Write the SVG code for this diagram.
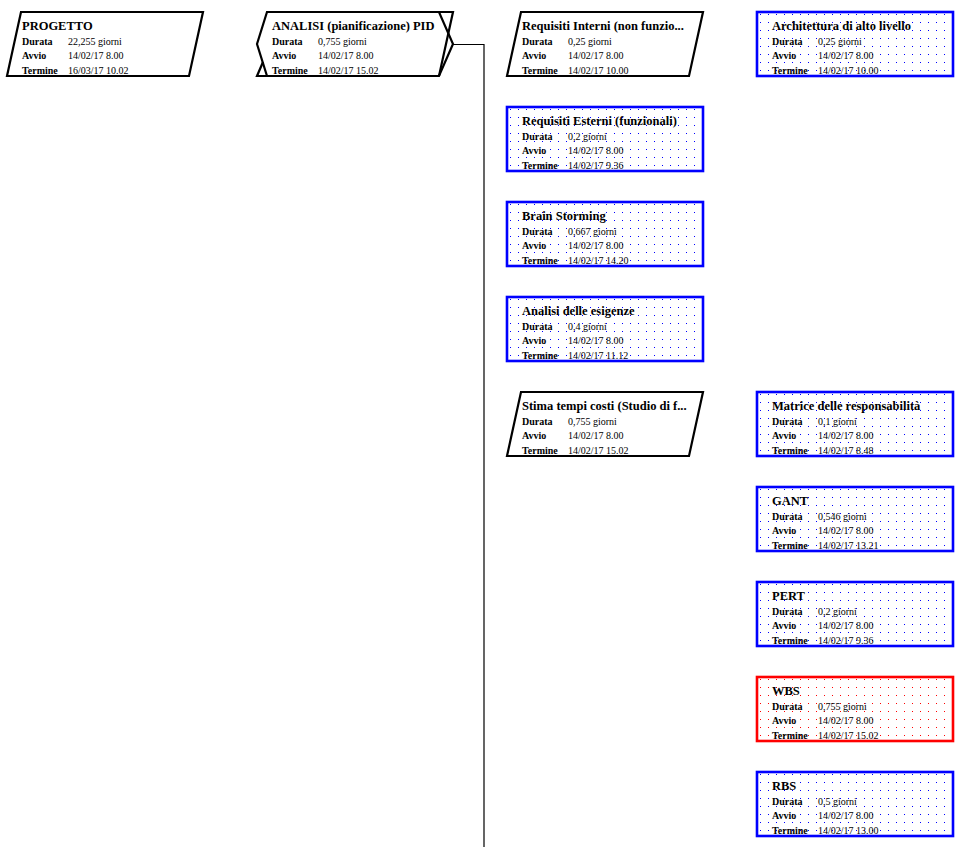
<svg xmlns="http://www.w3.org/2000/svg" width="979" height="847" viewBox="0 0 979 847">
<defs>
<pattern id="dotB" width="8" height="8" patternUnits="userSpaceOnUse" x="3" y="2"><rect x="0" y="0" width="1" height="1" fill="#0000ff"/></pattern>
<pattern id="dotR" width="8" height="8" patternUnits="userSpaceOnUse" x="3" y="2"><rect x="0" y="0" width="1" height="1" fill="#ff0000"/></pattern>
</defs>
<style>
.bg{fill:#fff}
.para{fill:#fff;stroke:#000;stroke-width:2.2;stroke-linejoin:miter}
.box{fill:url(#dotB);stroke:#0000ff;stroke-width:2.6}
.boxr{fill:url(#dotR);stroke:#ff0000;stroke-width:2.6}
.t{font-family:"Liberation Serif","Times New Roman",serif;font-weight:bold;font-size:12.5px;fill:#000}
.l{font-family:"Liberation Serif","Times New Roman",serif;font-weight:bold;font-size:10px;fill:#000}
.v{font-family:"Liberation Serif","Times New Roman",serif;font-size:10px;fill:#000}
.conn{fill:none;stroke:#000;stroke-width:1.2}
</style>
<rect class="bg" x="0" y="0" width="979" height="847"/>
<g id="connectors">
<path class="conn" d="M453,44.5 H484 V847"/>
</g>
<g id="n-progetto" transform="translate(7,12)">
<path class="para" d="M14,0 H196 L182,64 H0 Z"/>
<text class="t" x="15" y="18">PROGETTO</text>
<text class="l" x="15" y="32.5">Durata</text><text class="v" x="61" y="32.5">22,255 giorni</text>
<text class="l" x="15" y="47">Avvio</text><text class="v" x="61" y="47">14/02/17 8.00</text>
<text class="l" x="15" y="61.5">Termine</text><text class="v" x="61" y="61.5">16/03/17 10.02</text>
</g>
<g id="n-analisi" transform="translate(257,12)">
<path class="para" d="M10,0 H182 L196,32 L182,64 H10 L0,32 Z"/>
<path class="para" style="fill:none" d="M182,0 H196 L182,64 M10,64 H0 L6,50"/>
<text class="t" x="15" y="18">ANALISI (pianificazione) PID</text>
<text class="l" x="15" y="32.5">Durata</text><text class="v" x="61" y="32.5">0,755 giorni</text>
<text class="l" x="15" y="47">Avvio</text><text class="v" x="61" y="47">14/02/17 8.00</text>
<text class="l" x="15" y="61.5">Termine</text><text class="v" x="61" y="61.5">14/02/17 15.02</text>
</g>
<g id="n-req-interni" transform="translate(507,12)">
<path class="para" d="M14,0 H196 L182,64 H0 Z"/>
<text class="t" x="15" y="18">Requisiti Interni (non funzio...</text>
<text class="l" x="15" y="32.5">Durata</text><text class="v" x="61" y="32.5">0,25 giorni</text>
<text class="l" x="15" y="47">Avvio</text><text class="v" x="61" y="47">14/02/17 8.00</text>
<text class="l" x="15" y="61.5">Termine</text><text class="v" x="61" y="61.5">14/02/17 10.00</text>
</g>
<g id="n-req-esterni" transform="translate(507,107)">
<rect class="box" x="0" y="0" width="196" height="64"/>
<text class="t" x="15" y="18">Requisiti Esterni (funzionali)</text>
<text class="l" x="15" y="32.5">Durata</text><text class="v" x="61" y="32.5">0,2 giorni</text>
<text class="l" x="15" y="47">Avvio</text><text class="v" x="61" y="47">14/02/17 8.00</text>
<text class="l" x="15" y="61.5">Termine</text><text class="v" x="61" y="61.5">14/02/17 9.36</text>
</g>
<g id="n-brain" transform="translate(507,202)">
<rect class="box" x="0" y="0" width="196" height="64"/>
<text class="t" x="15" y="18">Brain Storming</text>
<text class="l" x="15" y="32.5">Durata</text><text class="v" x="61" y="32.5">0,667 giorni</text>
<text class="l" x="15" y="47">Avvio</text><text class="v" x="61" y="47">14/02/17 8.00</text>
<text class="l" x="15" y="61.5">Termine</text><text class="v" x="61" y="61.5">14/02/17 14.20</text>
</g>
<g id="n-esigenze" transform="translate(507,297)">
<rect class="box" x="0" y="0" width="196" height="64"/>
<text class="t" x="15" y="18">Analisi delle esigenze</text>
<text class="l" x="15" y="32.5">Durata</text><text class="v" x="61" y="32.5">0,4 giorni</text>
<text class="l" x="15" y="47">Avvio</text><text class="v" x="61" y="47">14/02/17 8.00</text>
<text class="l" x="15" y="61.5">Termine</text><text class="v" x="61" y="61.5">14/02/17 11.12</text>
</g>
<g id="n-stima" transform="translate(507,392)">
<path class="para" d="M14,0 H196 L182,64 H0 Z"/>
<text class="t" x="15" y="18">Stima tempi costi (Studio di f...</text>
<text class="l" x="15" y="32.5">Durata</text><text class="v" x="61" y="32.5">0,755 giorni</text>
<text class="l" x="15" y="47">Avvio</text><text class="v" x="61" y="47">14/02/17 8.00</text>
<text class="l" x="15" y="61.5">Termine</text><text class="v" x="61" y="61.5">14/02/17 15.02</text>
</g>
<g id="n-architettura" transform="translate(757,12)">
<rect class="box" x="0" y="0" width="196" height="64"/>
<text class="t" x="15" y="18">Architettura di alto livello</text>
<text class="l" x="15" y="32.5">Durata</text><text class="v" x="61" y="32.5">0,25 giorni</text>
<text class="l" x="15" y="47">Avvio</text><text class="v" x="61" y="47">14/02/17 8.00</text>
<text class="l" x="15" y="61.5">Termine</text><text class="v" x="61" y="61.5">14/02/17 10.00</text>
</g>
<g id="n-matrice" transform="translate(757,392)">
<rect class="box" x="0" y="0" width="196" height="64"/>
<text class="t" x="15" y="18">Matrice delle responsabilità</text>
<text class="l" x="15" y="32.5">Durata</text><text class="v" x="61" y="32.5">0,1 giorni</text>
<text class="l" x="15" y="47">Avvio</text><text class="v" x="61" y="47">14/02/17 8.00</text>
<text class="l" x="15" y="61.5">Termine</text><text class="v" x="61" y="61.5">14/02/17 8.48</text>
</g>
<g id="n-gant" transform="translate(757,487)">
<rect class="box" x="0" y="0" width="196" height="64"/>
<text class="t" x="15" y="18">GANT</text>
<text class="l" x="15" y="32.5">Durata</text><text class="v" x="61" y="32.5">0,546 giorni</text>
<text class="l" x="15" y="47">Avvio</text><text class="v" x="61" y="47">14/02/17 8.00</text>
<text class="l" x="15" y="61.5">Termine</text><text class="v" x="61" y="61.5">14/02/17 13.21</text>
</g>
<g id="n-pert" transform="translate(757,582)">
<rect class="box" x="0" y="0" width="196" height="64"/>
<text class="t" x="15" y="18">PERT</text>
<text class="l" x="15" y="32.5">Durata</text><text class="v" x="61" y="32.5">0,2 giorni</text>
<text class="l" x="15" y="47">Avvio</text><text class="v" x="61" y="47">14/02/17 8.00</text>
<text class="l" x="15" y="61.5">Termine</text><text class="v" x="61" y="61.5">14/02/17 9.36</text>
</g>
<g id="n-wbs" transform="translate(757,677)">
<rect class="boxr" x="0" y="0" width="196" height="64"/>
<text class="t" x="15" y="18">WBS</text>
<text class="l" x="15" y="32.5">Durata</text><text class="v" x="61" y="32.5">0,755 giorni</text>
<text class="l" x="15" y="47">Avvio</text><text class="v" x="61" y="47">14/02/17 8.00</text>
<text class="l" x="15" y="61.5">Termine</text><text class="v" x="61" y="61.5">14/02/17 15.02</text>
</g>
<g id="n-rbs" transform="translate(757,772)">
<rect class="box" x="0" y="0" width="196" height="64"/>
<text class="t" x="15" y="18">RBS</text>
<text class="l" x="15" y="32.5">Durata</text><text class="v" x="61" y="32.5">0,5 giorni</text>
<text class="l" x="15" y="47">Avvio</text><text class="v" x="61" y="47">14/02/17 8.00</text>
<text class="l" x="15" y="61.5">Termine</text><text class="v" x="61" y="61.5">14/02/17 13.00</text>
</g>
</svg>
